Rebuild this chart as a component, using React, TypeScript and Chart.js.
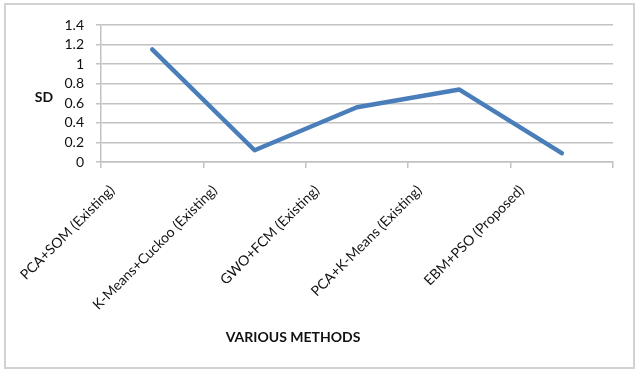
import React, { useEffect, useRef } from "react";
import { Chart, registerables } from "chart.js";

Chart.register(...registerables);

// Methods compared and their standard deviation
const methods = [
  "PCA+SOM (Existing)",
  "K-Means+Cuckoo (Existing)",
  "GWO+FCM (Existing)",
  "PCA+K-Means (Existing)",
  "EBM+PSO (Proposed)",
];
const sdValues = [1.15, 0.12, 0.56, 0.74, 0.09];
const yTicks = [0, 0.2, 0.4, 0.6, 0.8, 1, 1.2, 1.4];
const yTickLabels = ["0", "0.2", "0.4", "0.6", "0.8", "1", "1.2", "1.4"];

const yTitle = "SD";
const xTitle = "VARIOUS METHODS";

const FONT = "Lato, 'Open Sans', 'Liberation Sans', sans-serif";
const TEXT = "#111111";
const GRID = "#c2c2c2";
const LINE = "#4a7ebb";

// Horizontal axis titles drawn on the canvas
const axisTitles = {
  id: "axisTitles",
  afterDraw(chart: Chart) {
    const { ctx, chartArea } = chart;
    ctx.save();
    ctx.fillStyle = TEXT;
    ctx.font = `bold 14px ${FONT}`;
    ctx.textBaseline = "middle";
    ctx.textAlign = "center";
    ctx.fillText(yTitle, chartArea.left - 57, (chartArea.top + chartArea.bottom) / 2 + 4);
    ctx.fillText(xTitle, chartArea.left + 192, chart.height - 33);
    ctx.restore();
  },
};

export default function App() {
  const canvasRef = useRef<HTMLCanvasElement | null>(null);

  useEffect(() => {
    if (!canvasRef.current) return;
    const chart = new Chart(canvasRef.current, {
      type: "line",
      data: {
        labels: methods,
        datasets: [
          {
            data: sdValues,
            borderColor: LINE,
            backgroundColor: LINE,
            borderWidth: 4.5,
            pointRadius: 0,
            tension: 0,
            borderJoinStyle: "round",
            borderCapStyle: "round",
          },
        ],
      },
      options: {
        responsive: false,
        animation: false,
        layout: { padding: { left: 0, right: 23, top: 25, bottom: 0 } },
        plugins: {
          legend: { display: false },
          tooltip: { enabled: false },
        },
        scales: {
          x: {
            offset: true,
            afterFit(scale: any) {
              scale.height = 208;
            },
            grid: {
              offset: true,
              drawOnChartArea: false,
              drawTicks: true,
              tickLength: 6,
              color: GRID,
              lineWidth: 1.5,
            },
            border: { display: true, color: GRID, width: 1.5 },
            ticks: {
              minRotation: 45,
              maxRotation: 45,
              autoSkip: false,
              padding: 14,
              labelOffset: -40,
              color: TEXT,
              font: { family: FONT, size: 14 },
            },
          },
          y: {
            min: 0,
            max: 1.4,
            afterFit(scale: any) {
              scale.width = 101;
            },
            afterBuildTicks(scale: any) {
              scale.ticks = yTicks.map((v) => ({ value: v }));
            },
            grid: {
              color: GRID,
              lineWidth: 1.5,
              drawTicks: true,
              tickLength: 5,
            },
            border: { display: true, color: GRID, width: 1.5 },
            ticks: {
              autoSkip: false,
              padding: 12,
              color: TEXT,
              font: { family: FONT, size: 14 },
              callback: (v: any) => {
                const i = yTicks.findIndex((t) => Math.abs(t - Number(v)) < 1e-6);
                return i >= 0 ? yTickLabels[i] : "";
              },
            },
          },
        },
      },
      plugins: [axisTitles],
    });
    return () => chart.destroy();
  }, []);

  return (
    <div
      style={{
        position: "fixed",
        left: 0,
        top: 0,
        width: 636,
        height: 370,
        background: "#fff",
      }}
    >
      <div
        style={{
          position: "absolute",
          left: 4,
          top: 3,
          width: 627,
          height: 362,
          border: "2px solid #d2d2d2",
          pointerEvents: "none",
        }}
      />
      <canvas
        ref={canvasRef}
        width={636}
        height={370}
        style={{ position: "absolute", left: 0, top: 0, width: 636, height: 370 }}
      />
    </div>
  );
}
